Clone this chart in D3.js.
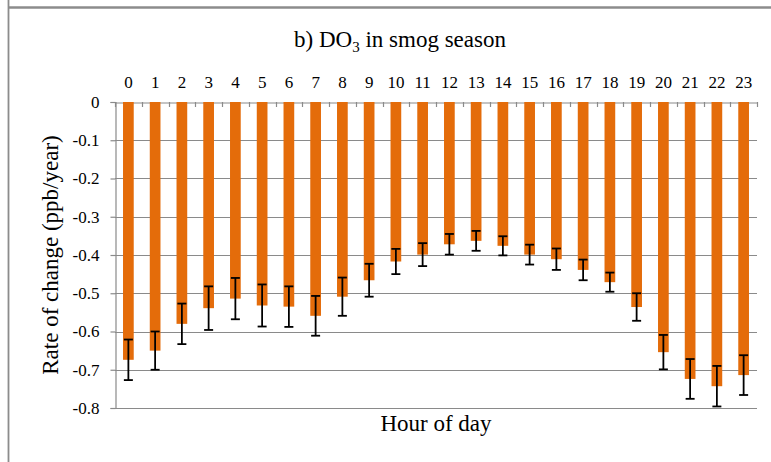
<!DOCTYPE html>
<html>
<head>
<meta charset="utf-8">
<script src="https://cdn.jsdelivr.net/npm/d3@7"></script>
<style>
  html, body { margin: 0; padding: 0; background: #fff; }
  svg { display: block; }
  text { font-family: "Liberation Serif", "Times New Roman", serif; fill: #000; }
</style>
</head>
<body>
<svg id="chart" width="771" height="462"></svg>
<script>
// Hours of the day (category axis)
const hours = d3.range(0, 24).map(String);
// Mean rate of change of DO3 per hour (ppb/year)
const rates = [-0.674, -0.650, -0.580, -0.539, -0.514, -0.532, -0.535, -0.559,
               -0.509, -0.466, -0.417, -0.399, -0.372, -0.363, -0.376, -0.399,
               -0.411, -0.439, -0.471, -0.536, -0.654, -0.724, -0.743, -0.714];
// Half-width of the uncertainty interval for each hour
const errors = [0.053, 0.050, 0.053, 0.057, 0.054, 0.055, 0.053, 0.052,
                0.050, 0.043, 0.033, 0.030, 0.027, 0.026, 0.025, 0.026,
                0.028, 0.027, 0.025, 0.036, 0.045, 0.052, 0.053, 0.052];
// Value axis ticks
const yTicks = [0, -0.1, -0.2, -0.3, -0.4, -0.5, -0.6, -0.7, -0.8];

const serif = "'Liberation Serif', 'Times New Roman', serif";
const svg = d3.select("#chart").attr("font-family", serif);
const plot = { left: 115, right: 757, top: 102, bottom: 408 };
const axisColor = "#8a8a8a";

// Outer frame lines
svg.append("line").attr("x1", 8.5).attr("x2", 8.5).attr("y1", 0).attr("y2", 462)
  .attr("stroke", "#8c8c8c").attr("stroke-width", 1.8);
svg.append("line").attr("x1", 8).attr("x2", 771).attr("y1", 7.5).attr("y2", 7.5)
  .attr("stroke", "#8c8c8c").attr("stroke-width", 2.6);

const x = d3.scaleBand().domain(hours).range([plot.left, plot.right])
  .paddingInner(0.6).paddingOuter(0.3);
const y = d3.scaleLinear().domain([-0.8, 0]).range([plot.bottom, plot.top]);

// Horizontal gridlines
svg.append("g").selectAll("line").data(yTicks.filter(d => d !== 0)).join("line")
  .attr("x1", plot.left).attr("x2", plot.right)
  .attr("y1", d => Math.round(y(d)) + 0.5).attr("y2", d => Math.round(y(d)) + 0.5)
  .attr("stroke", axisColor).attr("stroke-width", 1.2);

// Value axis on the left
const yAxis = svg.append("g")
  .attr("transform", `translate(${plot.left + 0.5},0)`)
  .call(d3.axisLeft(y).tickValues(yTicks).tickSize(5).tickPadding(11)
    .tickFormat(d => d === 0 ? "0" : String(+d.toFixed(1))))
  .attr("font-family", serif).attr("font-size", 17);
yAxis.select(".domain").attr("stroke", axisColor).attr("stroke-width", 1.2);
yAxis.selectAll(".tick line").attr("stroke", axisColor).attr("stroke-width", 1.2);
yAxis.selectAll(".tick text").attr("font-family", serif).attr("fill", "#000");

// Category axis along the zero line, labels on top
const xAxis = svg.append("g")
  .attr("transform", `translate(0,${plot.top + 0.5})`)
  .call(d3.axisTop(x).tickSize(0).tickPadding(15))
  .attr("font-family", serif).attr("font-size", 17);
xAxis.select(".domain").attr("stroke", axisColor).attr("stroke-width", 1.2);
xAxis.selectAll(".tick text").attr("font-family", serif).attr("fill", "#000");

// Tick marks between categories, pointing down
const boundaries = d3.range(0, hours.length + 1).map(i => plot.left + i * x.step());
svg.append("g").selectAll("line").data(boundaries).join("line")
  .attr("x1", d => Math.round(d) + 0.5).attr("x2", d => Math.round(d) + 0.5)
  .attr("y1", plot.top).attr("y2", plot.top + 5)
  .attr("stroke", axisColor).attr("stroke-width", 1.2);

// Bars
svg.append("g").selectAll("rect").data(hours).join("rect")
  .attr("x", h => x(h))
  .attr("width", x.bandwidth())
  .attr("y", y(0))
  .attr("height", (h, i) => y(rates[i]) - y(0))
  .attr("fill", "#e46c0a");

// Error bars
const eb = svg.append("g").attr("stroke", "#000").attr("stroke-width", 1.8);
const cap = 4.5;
hours.forEach((h, i) => {
  const cx = x(h) + x.bandwidth() / 2;
  const hi = y(rates[i] + errors[i]);
  const lo = y(rates[i] - errors[i]);
  eb.append("line").attr("x1", cx).attr("x2", cx).attr("y1", hi).attr("y2", lo);
  eb.append("line").attr("x1", cx - cap).attr("x2", cx + cap).attr("y1", hi).attr("y2", hi);
  eb.append("line").attr("x1", cx - cap).attr("x2", cx + cap).attr("y1", lo).attr("y2", lo);
});

// Title with subscript
const title = svg.append("text").attr("x", 400).attr("y", 47)
  .attr("text-anchor", "middle").attr("font-size", 23);
title.append("tspan").text("b) DO");
title.append("tspan").attr("dy", 5).attr("font-size", 15).text("3");
title.append("tspan").attr("dy", -5).text(" in smog season");

// Axis titles
svg.append("text").attr("x", (plot.left + plot.right) / 2).attr("y", 431)
  .attr("text-anchor", "middle").attr("font-size", 23).text("Hour of day");
svg.append("text")
  .attr("transform", `translate(58,${(plot.top + plot.bottom) / 2}) rotate(-90)`)
  .attr("text-anchor", "middle").attr("font-size", 23)
  .text("Rate of change (ppb/year)");
</script>
</body>
</html>
